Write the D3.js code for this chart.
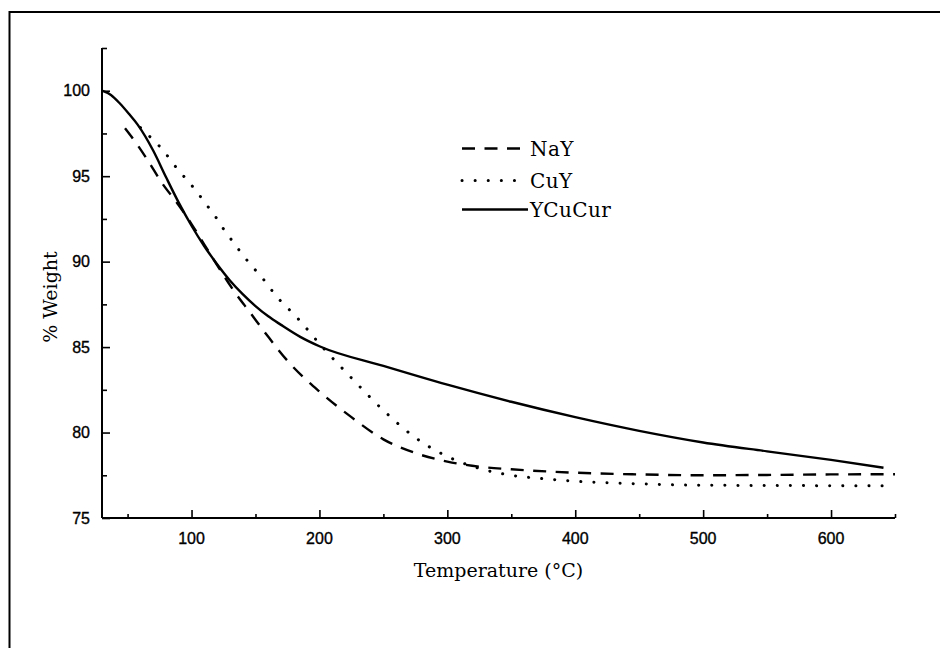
<!DOCTYPE html>
<html>
<head>
<meta charset="utf-8">
<script src="https://cdn.jsdelivr.net/npm/d3@7"></script>
<style>
  html, body { margin: 0; padding: 0; background: #fff; }
  svg { display: block; }
</style>
</head>
<body>
<div id="chart"></div>
<script>
// Thermogravimetric curves: % weight vs temperature for three zeolite samples
const seriesNames = ["NaY", "CuY", "YCuCur"];

const nayTemp   = [48, 58, 66, 76, 90, 100, 110, 120, 133, 146, 160, 175, 200, 225, 250, 275, 300, 325, 350, 400, 450, 500, 550, 600, 650];
const nayWeight = [97.8, 96.8, 95.9, 94.7, 93.3, 92.2, 91.0, 89.8, 88.3, 87.0, 85.6, 84.2, 82.4, 80.9, 79.6, 78.8, 78.3, 78.0, 77.85, 77.65, 77.55, 77.5, 77.52, 77.55, 77.56];

const cuyTemp   = [60, 69, 78, 86, 95, 103, 111, 119, 126, 133, 141, 150, 158, 166, 175, 184, 200, 225, 250, 275, 300, 325, 350, 375, 400, 450, 500, 550, 650];
const cuyWeight = [97.85, 97.2, 96.5, 95.7, 94.9, 94.2, 93.4, 92.6, 91.8, 91.1, 90.3, 89.5, 88.8, 88.0, 87.3, 86.6, 85.2, 83.2, 81.3, 79.7, 78.6, 77.9, 77.5, 77.3, 77.15, 77.0, 76.92, 76.9, 76.89];

const ycuTemp   = [30, 37, 44, 51, 58, 70, 80, 90, 100, 110, 120, 130, 140, 150, 160, 170, 185, 200, 250, 300, 350, 400, 450, 500, 550, 600, 641];
const ycuWeight = [100.0, 99.75, 99.25, 98.65, 98.0, 96.5, 94.95, 93.45, 92.1, 90.9, 89.85, 88.9, 88.1, 87.4, 86.8, 86.3, 85.6, 85.05, 83.9, 82.8, 81.8, 80.9, 80.1, 79.42, 78.9, 78.4, 77.94];

const xTickValues = [100, 200, 300, 400, 500, 600];
const xMinorTicks = [50, 150, 250, 350, 450, 550, 650];
const yTickValues = [75, 80, 85, 90, 95, 100];
const yMinorTicks = [77.5, 82.5, 87.5, 92.5, 97.5, 102.5];

const xTitle = "Temperature (°C)";
const yTitle = "% Weight";

const W = 940, H = 648;
const plot = { left: 102, right: 895, top: 48, bottom: 518 };

const svg = d3.select("#chart").append("svg")
  .attr("width", W).attr("height", H);

// page frame (top and left edges)
svg.append("path")
  .attr("d", `M9.5,${H} L9.5,12 L${W},12`)
  .attr("fill", "none").attr("stroke", "#000").attr("stroke-width", 2);

const x = d3.scaleLinear().domain([30, 650]).range([plot.left, plot.right]);
const y = d3.scaleLinear().domain([75, 102.5]).range([plot.bottom, plot.top]);

const axisFont = "'Liberation Sans', Arial, sans-serif";
const serifFont = "'DejaVu Serif', 'Liberation Serif', serif";

// x axis: ticks point inward (up)
const gx = svg.append("g").attr("transform", `translate(0,${plot.bottom})`);
gx.call(d3.axisTop(x).tickValues(xMinorTicks).tickSize(4).tickFormat(""));
gx.call(g => g.append("g").call(d3.axisTop(x).tickValues(xTickValues).tickSize(8).tickFormat("")));
gx.selectAll(".domain").attr("stroke-width", 2).attr("d", `M${plot.left},0H${plot.right}`);
gx.selectAll(".tick line").attr("stroke-width", 1.6);
gx.selectAll(".tick text").remove();
gx.append("g").selectAll("text")
  .data(xTickValues).join("text")
  .attr("x", d => x(d)).attr("y", 26)
  .attr("text-anchor", "middle")
  .attr("font-family", axisFont).attr("font-size", 16)
  .attr("fill", "#000").attr("stroke", "#000").attr("stroke-width", 0.35)
  .text(d => d);

// y axis: ticks point inward (right)
const gy = svg.append("g").attr("transform", `translate(${plot.left},0)`);
gy.call(d3.axisRight(y).tickValues(yMinorTicks).tickSize(5).tickFormat(""));
gy.call(g => g.append("g").call(d3.axisRight(y).tickValues(yTickValues).tickSize(8).tickFormat("")));
gy.selectAll(".domain").attr("stroke-width", 2).attr("d", `M0,${plot.top}V${plot.bottom}`);
gy.selectAll(".tick line").attr("stroke-width", 1.6);
gy.selectAll(".tick text").remove();
gy.append("g").selectAll("text")
  .data(yTickValues).join("text")
  .attr("x", -12).attr("y", d => y(d))
  .attr("dy", "0.36em")
  .attr("text-anchor", "end")
  .attr("font-family", axisFont).attr("font-size", 16)
  .attr("fill", "#000").attr("stroke", "#000").attr("stroke-width", 0.35)
  .text(d => d);

// axis titles
svg.append("text")
  .attr("x", (plot.left + plot.right) / 2).attr("y", 577)
  .attr("text-anchor", "middle")
  .attr("font-family", serifFont).attr("font-size", 19)
  .attr("fill", "#000")
  .text(xTitle);

svg.append("text")
  .attr("transform", "translate(57,297) rotate(-90)")
  .attr("text-anchor", "middle")
  .attr("font-family", serifFont).attr("font-size", 19)
  .attr("fill", "#000")
  .text(yTitle);

// curves
const styles = {
  NaY:    { dash: "13,9.5", width: 2.4, cap: "butt" },
  CuY:    { dash: "0.1,13", width: 3, cap: "round" },
  YCuCur: { dash: null, width: 2.4, cap: "butt" }
};

const series = [
  { name: "NaY", t: nayTemp, w: nayWeight },
  { name: "CuY", t: cuyTemp, w: cuyWeight },
  { name: "YCuCur", t: ycuTemp, w: ycuWeight }
];

const line = d3.line()
  .x(d => x(d[0])).y(d => y(d[1]))
  .curve(d3.curveMonotoneX);

svg.append("g").selectAll("path")
  .data(series).join("path")
  .attr("d", s => line(d3.zip(s.t, s.w)))
  .attr("fill", "none")
  .attr("stroke", "#000")
  .attr("stroke-width", s => styles[s.name].width)
  .attr("stroke-linecap", s => styles[s.name].cap)
  .attr("stroke-dasharray", s => styles[s.name].dash);

// legend
const legendRows = [
  { name: seriesNames[0], y: 148.5, x2: 520 },
  { name: seriesNames[1], y: 180.5, x2: 518 },
  { name: seriesNames[2], y: 209.5, x2: 528 }
];
const lg = svg.append("g");
lg.selectAll("line").data(legendRows).join("line")
  .attr("x1", 462).attr("x2", d => d.x2)
  .attr("y1", d => d.y).attr("y2", d => d.y)
  .attr("stroke", "#000")
  .attr("stroke-width", d => styles[d.name].width)
  .attr("stroke-linecap", d => styles[d.name].cap)
  .attr("stroke-dasharray", d => styles[d.name].dash);
lg.selectAll("text").data(legendRows).join("text")
  .attr("x", 530).attr("y", d => d.y)
  .attr("dy", "0.36em")
  .attr("font-family", serifFont).attr("font-size", 20)
  .attr("letter-spacing", 0.4)
  .attr("fill", "#000")
  .text(d => d.name);
</script>
</body>
</html>
